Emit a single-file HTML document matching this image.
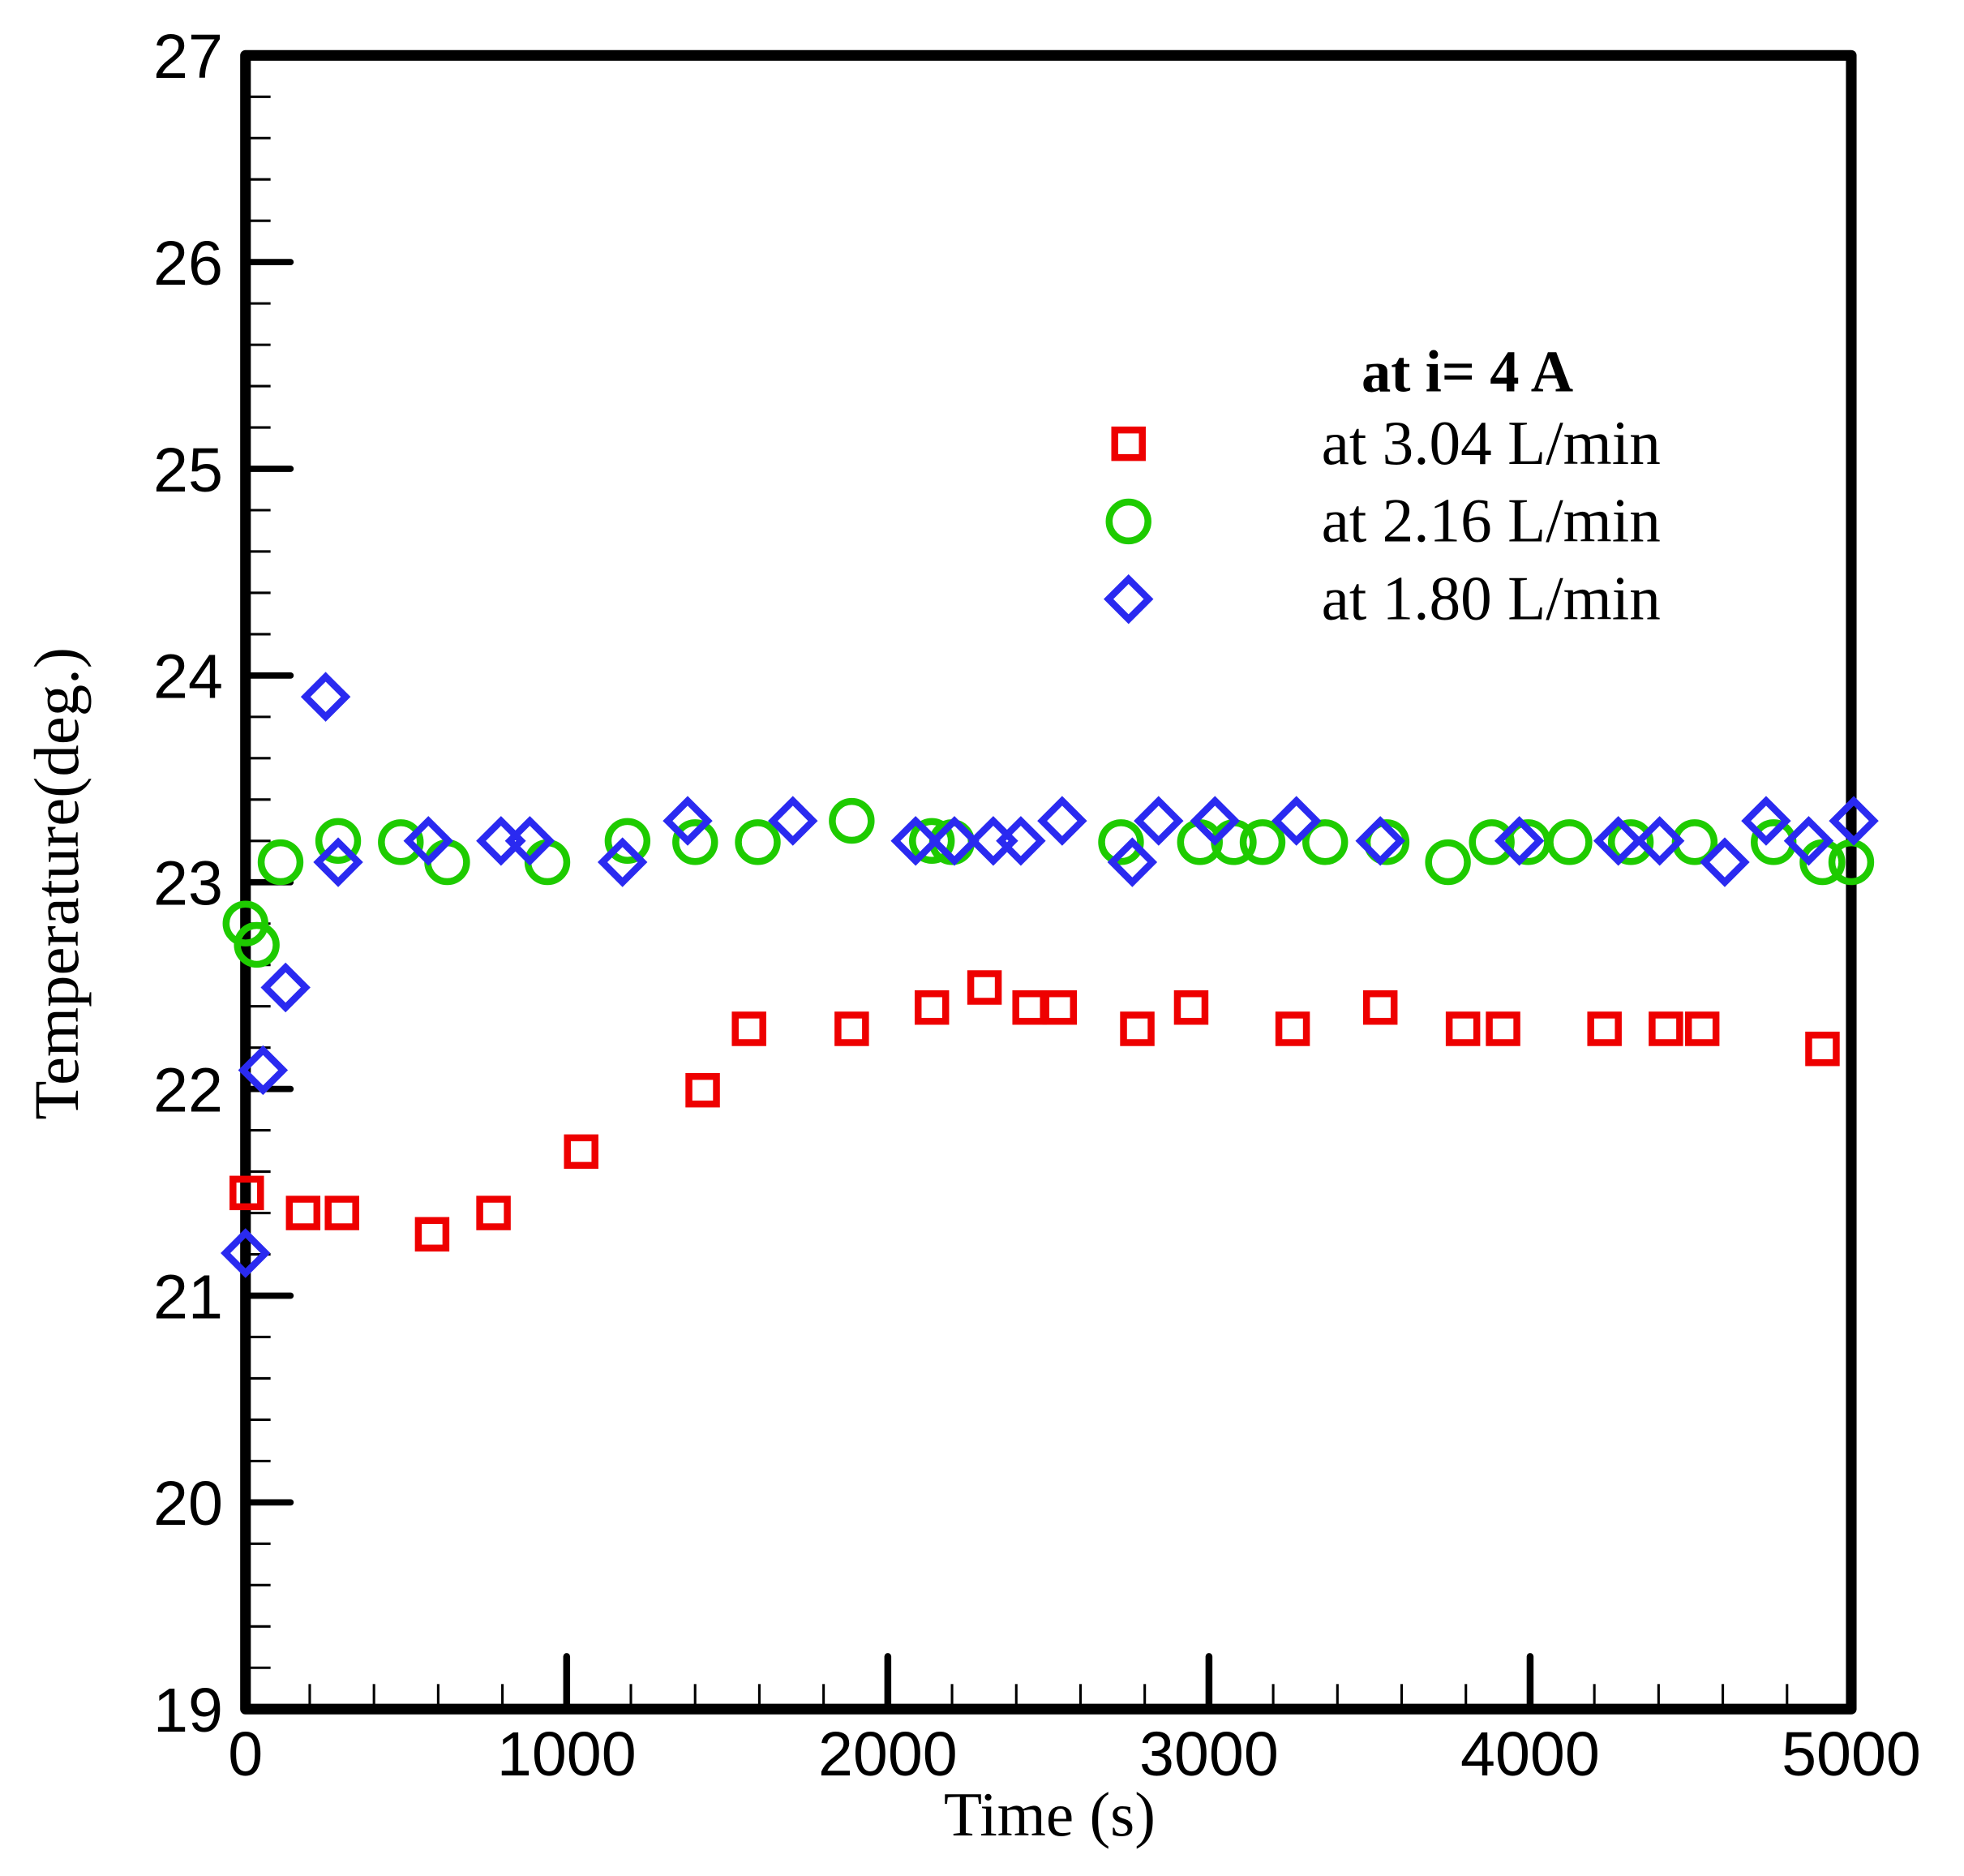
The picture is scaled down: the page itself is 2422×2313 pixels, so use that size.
<!DOCTYPE html>
<html><head><meta charset="utf-8"><style>
html,body{margin:0;padding:0;background:#fff;}
svg{display:block;}
</style></head><body>
<svg width="2422" height="2313" viewBox="0 0 1568 1497" xmlns="http://www.w3.org/2000/svg">
<rect width="1568" height="1497" fill="#fff"/>
<script>
(function(){
var ns="http://www.w3.org/2000/svg",svg=document.querySelector('svg');
function el(t,a,p){var e=document.createElementNS(ns,t);for(var k in a)e.setAttribute(k,a[k]);(p||svg).appendChild(e);return e;}
var X0=196,X1=1478,Y0=1364,Y1=44;
for(var i=0;i<=40;i++){var y=Y0-(Y0-Y1)*i/40;if(i%5==0){el('line',{x1:X0,x2:X0+36,y1:y,y2:y,stroke:'#000','stroke-width':5,'stroke-linecap':'round'});
var t=el('text',{x:178,y:y+18,'text-anchor':'end','font-family':'Liberation Sans, Arial, sans-serif','font-size':50});t.textContent=19+i/5;}
else el('line',{x1:X0,x2:X0+20,y1:y,y2:y,stroke:'#000','stroke-width':2});}
for(var i=0;i<=25;i++){var x=X0+(X1-X0)*i/25;if(i%5==0){el('line',{x1:x,x2:x,y1:Y0,y2:Y0-42,stroke:'#000','stroke-width':5.5,'stroke-linecap':'round'});
var t=el('text',{x:x,y:1417,'text-anchor':'middle','font-family':'Liberation Sans, Arial, sans-serif','font-size':50});t.textContent=i*200;}
else el('line',{x1:x,x2:x,y1:Y0,y2:Y0-20,stroke:'#000','stroke-width':2});}
el('rect',{x:X0,y:Y1,width:X1-X0,height:Y0-Y1,fill:'none',stroke:'#000','stroke-width':8.5,'stroke-linejoin':'round'});
var R=[[197,952],[242,968],[273,968],[345,985],[394,968],[464,919],[561,870],[598,821],[680,821],[744,804],[786,788],[822,804],[846,804],[908,821],[951,804],[1032,821],[1102,804],[1168,821],[1200,821],[1281,821],[1330,821],[1359,821],[1455,837],[901,354]];
var G=[[196,737],[205,754],[224,688],[270,671],[320,672],[357,688],[437,688],[501,671],[555,672],[605,672],[680,655],[744,671],[760,672],[895,672],[958,672],[985,672],[1008,672],[1058,672],[1107,672],[1156,688],[1191,672],[1220,672],[1253,672],[1302,672],[1353,672],[1416,672],[1455,688],[1478,688],[901,416]];
var B=[[196,1000],[210,854],[228,788],[260,556],[270,688],[342,671],[400,671],[423,671],[497,688],[549,655],[633,655],[731,671],[762,671],[793,671],[815,671],[848,655],[904,688],[925,655],[970,655],[1035,655],[1102,671],[1213,671],[1292,671],[1325,671],[1377,688],[1410,655],[1444,671],[1480,655],[901,478]];
G.forEach(function(p){el('circle',{cx:p[0],cy:p[1],r:15.5,fill:'none',stroke:'#1ecb00','stroke-width':5.5});});
R.forEach(function(p){el('rect',{x:p[0]-11,y:p[1]-11,width:22,height:22,fill:'none',stroke:'#ee0000','stroke-width':5.5});});
B.forEach(function(p){var x=p[0],y=p[1],d=16;el('polygon',{points:(x)+','+(y-d)+' '+(x+d)+','+y+' '+x+','+(y+d)+' '+(x-d)+','+y,fill:'none',stroke:'#2a2af0','stroke-width':5.5});});
})();
</script>
<g font-family="Liberation Serif, 'Times New Roman', serif" fill="#000">
<text x="1087" y="312" font-size="47" font-weight="bold">at i= 4 A</text>
<text x="1055" y="370" font-size="50">at 3.04 L/min</text>
<text x="1055" y="432" font-size="50">at 2.16 L/min</text>
<text x="1055" y="494" font-size="50">at 1.80 L/min</text>
<text x="838" y="1465" font-size="50" text-anchor="middle">Time (s)</text>
<text x="0" y="0" font-size="51" text-anchor="middle" transform="translate(62,705) rotate(-90)">Temperature(deg.)</text>
</g>
</svg>
</body></html>
